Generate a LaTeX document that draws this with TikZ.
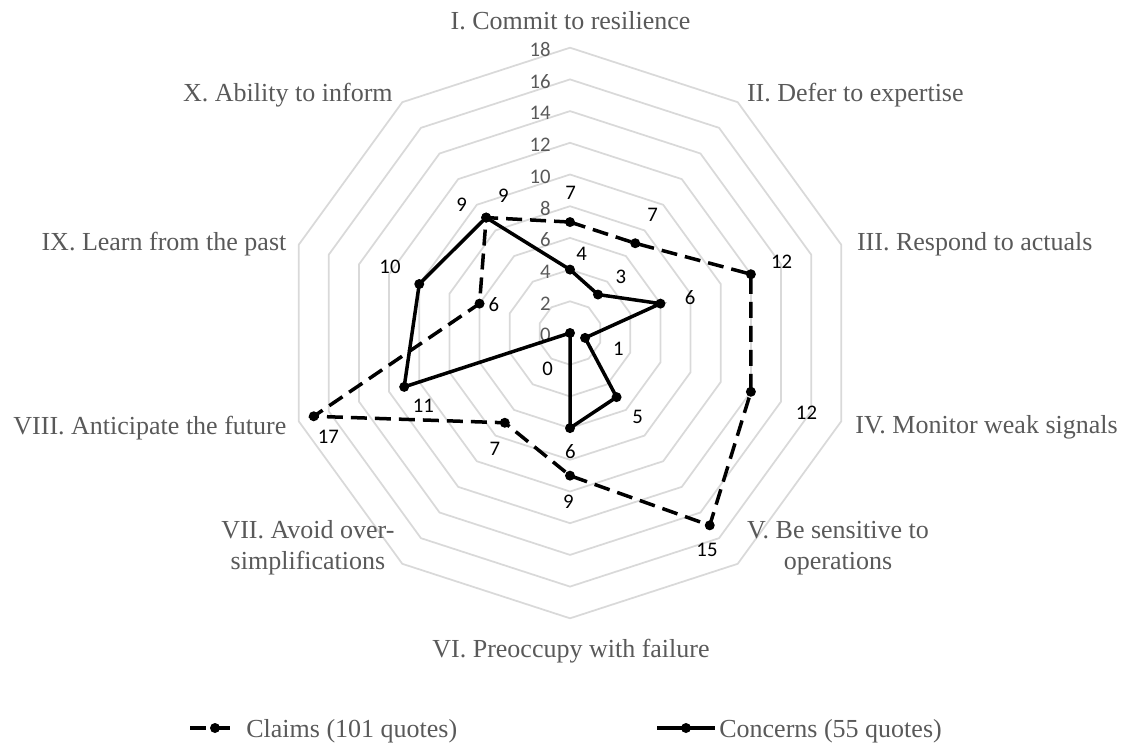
\documentclass[tikz,border=0pt]{standalone}
\usepackage{fontspec}
\setmainfont{Liberation Serif}
\newfontfamily\calibrifont{Carlito}
\usetikzlibrary{positioning}

\definecolor{labelgray}{HTML}{595959}
\definecolor{gridgray}{HTML}{D9D9D9}

\tikzstyle{ring} = [
    draw=gridgray,
    line width=0.035cm,
    line join=miter
]
\tikzstyle{axislabel} = [
    text=labelgray,
    inner sep=0,
    font=\fontsize{14.8}{17.4}\selectfont
]
\tikzstyle{ticklabel} = [
    text=labelgray,
    inner sep=0,
    anchor=east,
    font=\calibrifont\fontsize{11.8}{14}\selectfont
]
\tikzstyle{vallabel} = [
    inner sep=0,
    font=\calibrifont\fontsize{11.8}{14}\selectfont
]
\tikzstyle{claims} = [line width=0.07cm, dash pattern=on 0.32cm off 0.16cm]
\tikzstyle{concerns} = [line width=0.07cm]
\tikzstyle{marker} = [circle, fill=black, inner sep=0, minimum size=0.2cm]

\begin{document}
\begin{tikzpicture}[x=0.02cm, y=-0.02cm]

\useasboundingbox (0,0) rectangle (1127,744);

\begin{scope}[shift={(570,333)}, y=0.02cm]

\foreach \r in {2,4,...,18}
  \draw [ring] ({90}:{15.85*\r}) \foreach \a in {54,18,...,-234} {-- ({\a}:{15.85*\r})} -- cycle;

\foreach \r in {0,2,...,18}
  \node (tick\r) [ticklabel] at (-19,{15.85*\r-2}) {\r};

\foreach \v [count=\i] in {7,7,12,12,15,9,7,17,6,9}
  \node (cl\i) [marker] at ({90-36*(\i-1)}:{15.85*\v}) {};

\foreach \v [count=\i] in {4,3,6,1,5,6,0,11,10,9}
  \node (co\i) [marker] at ({90-36*(\i-1)}:{15.85*\v}) {};

\end{scope}

\draw [claims] (cl1.center) \foreach \i in {2,...,10} {-- (cl\i.center)} -- cycle;
\draw [concerns] (co1.center) \foreach \i in {2,...,10} {-- (co\i.center)} -- cycle;

\node (clv1) [vallabel] at (570.7,193.3) {7};
\node (clv2) [vallabel] at (652.7,214.5) {7};
\node (clv3) [vallabel] at (781.7,261.5) {12};
\node (clv4) [vallabel] at (806.5,412.5) {12};
\node (clv5) [vallabel] at (707,550) {15};
\node (clv6) [vallabel] at (568.5,501.7) {9};
\node (clv7) [vallabel] at (495,449.3) {7};
\node (clv8) [vallabel] at (328.3,436.7) {17};
\node (clv9) [vallabel] at (494,305) {6};
\node (clv10) [vallabel] at (503.3,195.5) {9};

\node (cov1) [vallabel] at (581.5,254) {4};
\node (cov2) [vallabel] at (621,277) {3};
\node (cov3) [vallabel] at (690,297.7) {6};
\node (cov4) [vallabel] at (618.3,349.3) {1};
\node (cov5) [vallabel] at (637.7,416.7) {5};
\node (cov6) [vallabel] at (570.5,451.7) {6};
\node (cov7) [vallabel] at (547.7,369) {0};
\node (cov8) [vallabel] at (423.3,406) {11};
\node (cov9) [vallabel] at (390,267) {10};
\node (cov10) [vallabel] at (461.7,204.5) {9};

\node (axI) [axislabel, anchor=base] at (570.5,29.3) {I. Commit to resilience};
\node (axII) [axislabel, anchor=base west] at (746.7,101) {II. Defer to expertise};
\node (axIII) [axislabel, anchor=base west] at (856.7,250.3) {III. Respond to actuals};
\node (axIV) [axislabel, anchor=base west] at (855,433.5) {IV. Monitor weak signals};
\node (axV) [axislabel, anchor=base, align=center] at (838,569) {V. Be sensitive to\\operations};
\node (axVI) [axislabel, anchor=base] at (571,657) {VI. Preoccupy with failure};
\node (axVII) [axislabel, anchor=base, align=center] at (308,569) {VII. Avoid over-\\simplifications};
\node (axVIII) [axislabel, anchor=base east] at (286.7,434.3) {VIII. Anticipate the future};
\node (axIX) [axislabel, anchor=base east] at (286.7,250.3) {IX. Learn from the past};
\node (axX) [axislabel, anchor=base east] at (393,101.5) {X. Ability to inform};

% legend
\coordinate (clkeyA) at (190,728);
\coordinate (clkeyB) at (231,728);
\draw [claims] (clkeyA) -- (clkeyB);
\node (clkey) [marker] at (215,728) {};
\node (clname) [axislabel, anchor=base west] at (246,737.5) {Claims (101 quotes)};

\coordinate (cokeyA) at (657,728);
\coordinate (cokeyB) at (715,728);
\draw [concerns] (cokeyA) -- (cokeyB);
\node (cokey) [marker] at (686,728) {};
\node (coname) [axislabel, anchor=base west] at (719,737.5) {Concerns (55 quotes)};

\end{tikzpicture}
\end{document}
